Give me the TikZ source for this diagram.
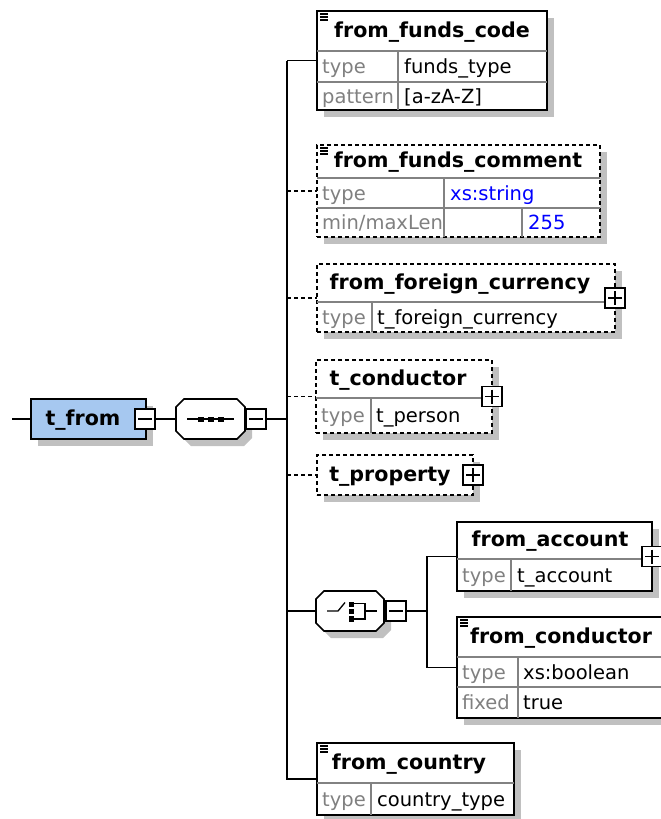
\documentclass[tikz,border=0pt]{standalone}
\usepackage{fontspec}
\setmainfont{DejaVu Sans}
\usetikzlibrary{shadows}
\definecolor{typefill}{RGB}{166,200,240}
\definecolor{shadowgray}{RGB}{192,192,192}
\definecolor{divider}{RGB}{130,130,130}
\definecolor{lblgray}{RGB}{128,128,128}
\definecolor{valblue}{RGB}{0,0,255}

% octagon used for the sequence / choice compositors, with its shadow
\newcommand{\xsdOct}[4]{%
  \fill[shadowgray] ({#1+15},{#2+7}) -- ({#3-1},{#2+7}) -- ({#3+7},{#2+15}) -- ({#3+7},{#4-1})
    -- ({#3-1},{#4+7}) -- ({#1+15},{#4+7}) -- ({#1+7},{#4-1}) -- ({#1+7},{#2+15}) -- cycle;
  \draw[outline, fill=white] ({#1+8},#2) -- ({#3-8},#2) -- (#3,{#2+8}) -- (#3,{#4-8})
    -- ({#3-8},#4) -- ({#1+8},#4) -- (#1,{#4-8}) -- (#1,{#2+8}) -- cycle;}

\begin{document}
\begin{tikzpicture}[x=1pt,y=-1pt,
  outline/.style={draw=black, line width=1.6pt},
  elem/.style={outline, fill=white, rectangle, inner sep=0pt, outer sep=0pt, anchor=north west,
    drop shadow={shadow xshift=7pt, shadow yshift=-7pt, fill=shadowgray, opacity=1}},
  optelem/.style={elem, dash pattern=on 4pt off 3pt},
  anchorbox/.style={rectangle, inner sep=0pt, outer sep=0pt, minimum width=#1},
  conn/.style={draw=black, line width=1.5pt},
  optconn/.style={conn, dash pattern=on 4pt off 3pt},
  rule/.style={draw=divider, line width=1.2pt},
  docicon/.style={draw=black, line width=1.2pt},
  glyph/.style={draw=black, line width=1.3pt},
  expbox/.style={draw=black, line width=1.2pt, fill=white, minimum size=20pt, inner sep=0pt, outer sep=0pt},
  minusbox/.style={expbox, path picture={\draw[line width=1.2pt]
    ([xshift=3pt]path picture bounding box.west) -- ([xshift=-3pt]path picture bounding box.east);}},
  plusbox/.style={expbox, path picture={\draw[line width=1.2pt]
    ([xshift=3pt]path picture bounding box.west) -- ([xshift=-3pt]path picture bounding box.east)
    ([yshift=-3pt]path picture bounding box.north) -- ([yshift=3pt]path picture bounding box.south);}},
  hdr/.style={font=\bfseries\fontsize{20.6}{22}\selectfont, inner sep=0pt, anchor=base},
  val/.style={font=\fontsize{19.5}{21}\selectfont, inner sep=0pt, anchor=base west},
  lbl/.style={val, text=lblgray},
  xsval/.style={val, text=valblue}]

\useasboundingbox (0,0) rectangle (661,819);
\clip (0,0) rectangle (661,819);

% ---------- element boxes ----------
\node[elem, fill=typefill, minimum width=115pt, minimum height=40pt] (tfrom) at (31,399) {};
\node[elem, minimum width=230pt, minimum height=99pt] (ffc) at (317,11) {};
\node[optelem, minimum width=283pt, minimum height=92pt] (ffcm) at (317,145) {};
\node[optelem, minimum width=298pt, minimum height=68pt] (ffcur) at (317,264) {};
\node[optelem, minimum width=176pt, minimum height=73pt] (tcond) at (316,360) {};
\node[optelem, minimum width=156pt, minimum height=40pt] (tprop) at (317,455) {};
\node[elem, minimum width=195pt, minimum height=69pt] (facc) at (457,522) {};
\node[elem, minimum width=260pt, minimum height=101pt] (fcond) at (457,617) {};
\node[elem, minimum width=197pt, minimum height=72pt] (fctry) at (317,743) {};

% ---------- compositors ----------
\xsdOct{176}{399}{245}{439}
\node[anchorbox=69pt, minimum height=40pt] (seq) at (210.5,419) {};
\draw[glyph] (187,419) -- (234,419);
\fill (197.5,416.5) rectangle (203.5,421.5);
\fill (207.5,416.5) rectangle (213.5,421.5);
\fill (217.5,416.5) rectangle (223.5,421.5);

\xsdOct{316}{591}{384}{631}
\node[anchorbox=68pt, minimum height=40pt] (choice) at (350,611) {};
\draw[glyph] (327,611) -- (338,611) -- (345,602.5);
\fill (349,601.5) rectangle (354,606.5);
\fill (349,608.5) rectangle (354,613.5);
\fill (349,616) rectangle (354,621.5);
\draw[glyph] (354,603.5) -- (365,603.5) -- (365,619) -- (354,619);
\draw[glyph] (365,611) -- (377,611);

% ---------- table rules inside the boxes ----------
\draw[rule] (317,51) -- (547,51) (317,82) -- (547,82) (398,51) -- (398,110);
\draw[rule] (317,178) -- (600,178) (317,208) -- (600,208) (444,178) -- (444,237) (522,208) -- (522,237);
\draw[rule] (317,302) -- (615,302) (372,302) -- (372,332);
\draw[rule] (316,398) -- (492,398) (371,398) -- (371,433);
\draw[rule] (457,559) -- (652,559) (511,559) -- (511,591);
\draw[rule] (457,657) -- (717,657) (457,687) -- (717,687) (518,657) -- (518,718);
\draw[rule] (317,783) -- (514,783) (371,783) -- (371,815);

% documentation markers
\draw[docicon] (320,14) -- ++(8,0) (320,17) -- ++(8,0) (320,20) -- ++(8,0);
\draw[docicon] (320,148) -- ++(8,0) (320,151) -- ++(8,0) (320,154) -- ++(8,0);
\draw[docicon] (460,620) -- ++(8,0) (460,623) -- ++(8,0) (460,626) -- ++(8,0);
\draw[docicon] (320,746) -- ++(8,0) (320,749) -- ++(8,0) (320,752) -- ++(8,0);

% ---------- connectors ----------
\coordinate (rootin) at (12,419);
\coordinate (busT) at (287,61);
\coordinate (busB) at (287,780);
\coordinate (sub) at (427,611);

\draw[conn] (rootin) -- (tfrom.west);
\draw[conn] (tfrom.east) -- (seq.west);
\draw[conn] (seq.east) -- (seq.east -| busT);
\draw[conn] (busT) -- (busB);
\draw[conn] (ffc.west -| busT) -- (ffc.west);
\draw[optconn] (ffcm.west -| busT) -- (ffcm.west);
\draw[optconn] (ffcur.west -| busT) -- (ffcur.west);
\draw[optconn] (tcond.west -| busT) -- (tcond.west);
\draw[optconn] (tprop.west -| busT) -- (tprop.west);
\draw[conn] (choice.west -| busT) -- (choice.west);
\draw[conn] (fctry.west -| busT) -- (fctry.west);
\draw[conn] (choice.east) -- (sub);
\draw[conn] (facc.west) -- (facc.west -| sub) -- (fcond.west -| sub) -- (fcond.west);

% ---------- expand / collapse buttons ----------
\node[minusbox] (tfromm) at (145,419) {};
\node[minusbox] (seqm) at (256,419) {};
\node[minusbox] (choicem) at (396,611) {};
\node[plusbox] (ffcurp) at (ffcur.east) {};
\node[plusbox] (tcondp) at (tcond.east) {};
\node[plusbox] (tpropp) at (tprop.east) {};
\node[plusbox] (faccp) at (facc.east) {};

% ---------- texts ----------
\node[hdr] (tfrom-h) at (83,425) {t\_from};

\node[hdr] (ffc-h) at (432,37) {from\_funds\_code};
\node[lbl] (ffc-l1) at (322,73.5) {type};
\node[val] (ffc-v1) at (404,73.5) {funds\_type};
\node[lbl] (ffc-l2) at (322,103) {pattern};
\node[val] (ffc-v2) at (404,103) {[a-zA-Z]};

\node[hdr] (ffcm-h) at (458,167.5) {from\_funds\_comment};
\node[lbl] (ffcm-l1) at (322,200) {type};
\node[xsval] (ffcm-v1) at (450,200) {xs:string};
\node[lbl] (ffcm-l2) at (322,229.5) {min/maxLen};
\node[xsval] (ffcm-v2) at (528,229.5) {255};

\node[hdr] (ffcur-h) at (460,289) {from\_foreign\_currency};
\node[lbl] (ffcur-l1) at (322,324) {type};
\node[val] (ffcur-v1) at (377,324) {t\_foreign\_currency};

\node[hdr] (tcond-h) at (398,385) {t\_conductor};
\node[lbl] (tcond-l1) at (321,422.5) {type};
\node[val] (tcond-v1) at (376,422.5) {t\_person};

\node[hdr] (tprop-h) at (390,481) {t\_property};

\node[hdr] (facc-h) at (550,546.5) {from\_account};
\node[lbl] (facc-l1) at (462,582) {type};
\node[val] (facc-v1) at (517,582) {t\_account};

\node[hdr] (fcond-h) at (561,643) {from\_conductor};
\node[lbl] (fcond-l1) at (462,679) {type};
\node[val] (fcond-v1) at (523,679) {xs:boolean};
\node[lbl] (fcond-l2) at (462,709.5) {fixed};
\node[val] (fcond-v2) at (523,709.5) {true};

\node[hdr] (fctry-h) at (409,769) {from\_country};
\node[lbl] (fctry-l1) at (322,806) {type};
\node[val] (fctry-v1) at (377,806) {country\_type};
\end{tikzpicture}
\end{document}
